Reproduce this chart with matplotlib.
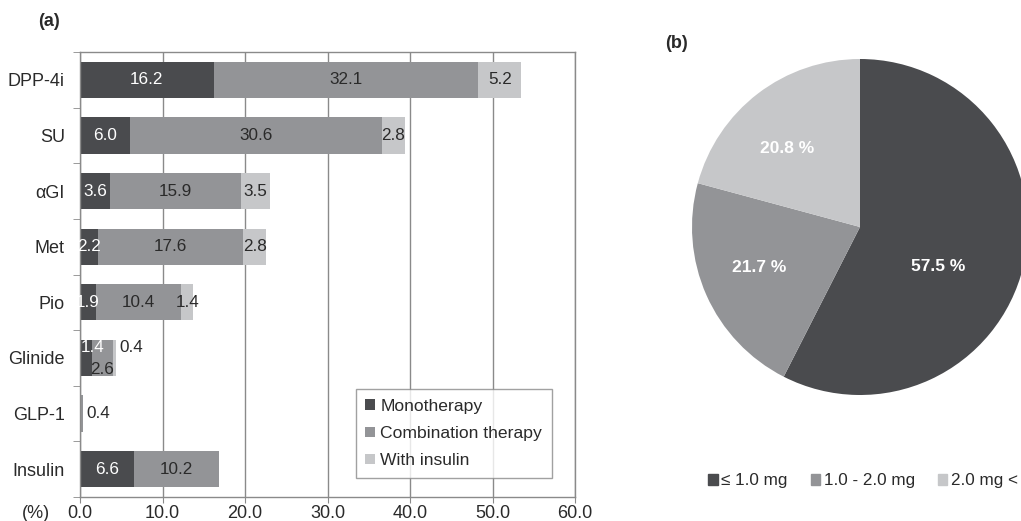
import matplotlib
matplotlib.use("Agg")
import matplotlib.pyplot as plt
from matplotlib.patches import Patch
import numpy as np

plt.rcParams['font.family'] = ['Liberation Sans', 'DejaVu Sans']

# data (a)
drugs = ['DPP-4i', 'SU', 'αGI', 'Met', 'Pio', 'Glinide', 'GLP-1', 'Insulin']
mono = [16.2, 6.0, 3.6, 2.2, 1.9, 1.4, 0.0, 6.6]
combo = [32.1, 30.6, 15.9, 17.6, 10.4, 2.6, 0.4, 10.2]
with_ins = [5.2, 2.8, 3.5, 2.8, 1.4, 0.4, 0.0, 0.0]
series_names = ['Monotherapy', 'Combination therapy', 'With insulin']
xticks = [0, 10, 20, 30, 40, 50, 60]

# data (b)
dose_labels = ['≤ 1.0 mg', '1.0 - 2.0 mg', '2.0 mg <']
dose_pct = [57.5, 21.7, 20.8]

c_dark = '#4a4b4e'
c_mid = '#939497'
c_light = '#c6c7c9'
colors = [c_dark, c_mid, c_light]
grid_c = '#8a8a8a'
txt_c = '#2a2a2a'

W, H = 1021, 521
fig = plt.figure(figsize=(W / 100, H / 100), dpi=100)

# ---- (a) stacked bars
ax = fig.add_axes([80 / W, 24 / H, 495 / W, 445 / H])
y = np.arange(len(drugs))
left = np.zeros(len(drugs))
series = [mono, combo, with_ins]
for vals, col, name in zip(series, colors, series_names):
    vals = np.array(vals)
    ax.barh(y, vals, left=left, height=0.65, color=col, label=name, zorder=2)
    left = left + vals

ax.set_xlim(0, 60)
ax.set_ylim(len(drugs) - 0.5, -0.5)
ax.set_xticks(xticks)
ax.set_xticklabels([f'{v:.1f}' for v in xticks], fontsize=13, color=txt_c)
ax.set_yticks(y)
ax.set_yticklabels(drugs, fontsize=13, color=txt_c)
ax.set_yticks(np.arange(-0.5, len(drugs) + 0.5, 1), minor=True)
ax.tick_params(axis='y', which='major', length=0, pad=11)
ax.tick_params(axis='y', which='minor', length=5, color=grid_c, direction='out')
ax.tick_params(axis='x', length=4, color=grid_c, direction='out', pad=2)
ax.grid(axis='x', color=grid_c, linewidth=1, zorder=0)
for s in ax.spines.values():
    s.set_color(grid_c)
    s.set_linewidth(1)

# segment labels
for i in range(len(drugs)):
    start = 0.0
    end = mono[i] + combo[i] + with_ins[i]
    for k, vals in enumerate(series):
        v = vals[i]
        if v <= 0:
            continue
        cx = start + v / 2
        cy = i
        ha = 'center'
        col = 'white' if k == 0 else txt_c
        if v < 1.0:
            # too thin: put the label to the right of the bar
            cx = end + 0.4
            ha = 'left'
            col = txt_c
            if drugs[i] == 'Glinide':
                cy = i - 0.18
        elif drugs[i] == 'Glinide':
            cy = i - 0.18 if k == 0 else i + 0.2
            if k == 0:
                cx = start + 0.05
                ha = 'left'
        ax.text(cx, cy, f'{v:.1f}', ha=ha, va='center', fontsize=12.3,
                color=col, zorder=3)
        start += v

leg = ax.legend(loc='lower right', bbox_to_anchor=(0.953, 0.043), borderaxespad=0,
                fancybox=False, edgecolor=grid_c, fontsize=12.6,
                handlelength=0.55, handleheight=0.55, handletextpad=0.3,
                labelspacing=0.7, borderpad=0.55)
leg.get_frame().set_linewidth(1)
for t in leg.get_texts():
    t.set_color(txt_c)

fig.text(50 / W, 1 - 513 / H, '(%)', ha='right', va='center', fontsize=13, color=txt_c)
fig.text(38 / W, 1 - 22 / H, '(a)', ha='left', va='center', fontsize=13,
         fontweight='bold', color=txt_c)

# ---- (b) pie
r = 168
pax = fig.add_axes([(860 - r) / W, (H - 227 - r) / H, 2 * r / W, 2 * r / H])
wedges, _ = pax.pie(dose_pct, colors=colors, startangle=90, counterclock=False,
                    radius=1, wedgeprops=dict(linewidth=0))
pax.set_xlim(-1, 1)
pax.set_ylim(-1, 1)
pax.set_aspect('auto')
pax.axis('off')

# label spots (angle in deg, distance as fraction of radius)
label_spots = [(-27, 0.52), (-158, 0.65), (133, 0.64)]
for pct, (ang, dist) in zip(dose_pct, label_spots):
    a = np.deg2rad(ang)
    pax.text(dist * np.cos(a), dist * np.sin(a), f'{pct:.1f} %', ha='center',
             va='center', fontsize=12.5, fontweight='bold', color='white')

handles = [Patch(color=c) for c in colors]
fig.legend(handles, dose_labels, loc='center', bbox_to_anchor=(863 / W, 1 - 481 / H),
           ncol=3, frameon=False, fontsize=12.3, handlelength=0.55, handleheight=0.55,
           handletextpad=0.2, columnspacing=1.35, labelcolor=txt_c)

fig.text(665 / W, 1 - 43 / H, '(b)', ha='left', va='center', fontsize=13,
         fontweight='bold', color=txt_c)

fig.savefig('out.png', dpi=100)
